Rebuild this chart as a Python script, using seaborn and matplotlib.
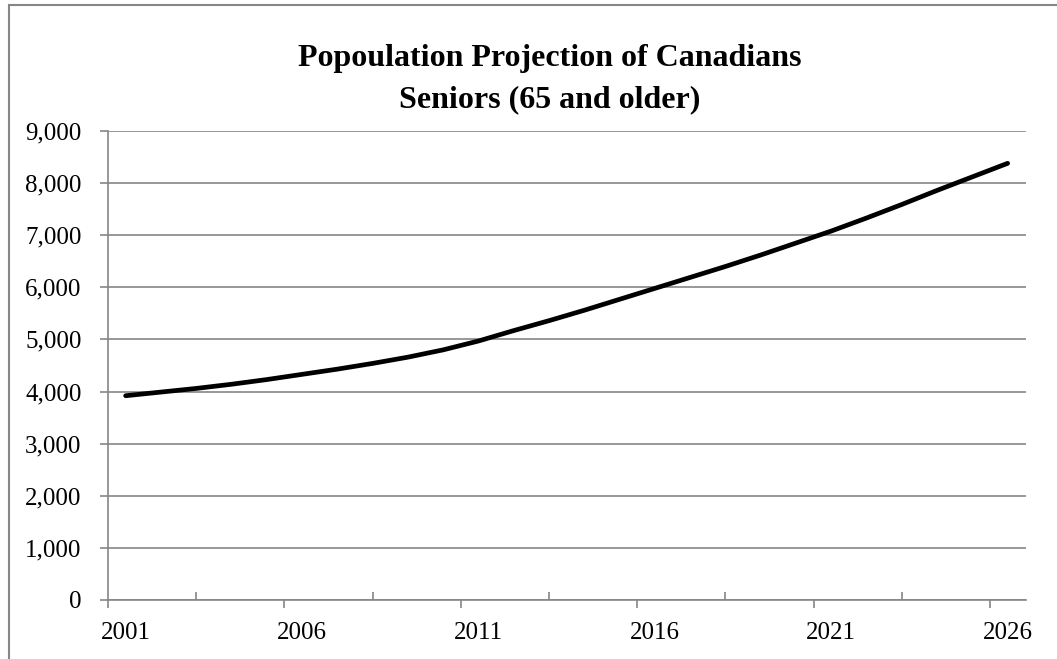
import matplotlib
matplotlib.use("Agg")
import matplotlib.pyplot as plt
from matplotlib.patches import Rectangle
from matplotlib.ticker import FuncFormatter, FixedLocator, NullFormatter
import seaborn as sns
import pandas as pd

years = list(range(2001, 2027))
seniors = [3920, 3990, 4060, 4140, 4230, 4330, 4430, 4540, 4660, 4800,
           4970, 5170, 5360, 5560, 5770, 5980, 6190, 6400, 6620, 6850,
           7080, 7330, 7590, 7860, 8120, 8380]
tick_labels = ["2001", "2006", "2011", "2016", "2021", "2026"]
title = "Popoulation Projection of Canadians\nSeniors (65 and older)"

sns.set_style("white")
plt.rcParams["font.family"] = ["Liberation Serif", "DejaVu Serif"]
plt.rcParams["text.color"] = "black"
plt.rcParams["xtick.labelcolor"] = "black"
plt.rcParams["ytick.labelcolor"] = "black"

df = pd.DataFrame({"year": years, "seniors": seniors})

W, H = 1057, 659
fig = plt.figure(figsize=(W / 100, H / 100), dpi=100)
ax = fig.add_axes([108 / W, 1 - 600 / H, (1026 - 108) / W, (600 - 131) / H])

grid_c = "#868686"
sns.lineplot(data=df, x="year", y="seniors", ax=ax, color="black", linewidth=3.4,
             solid_capstyle="round")

xlim = (years[0] - 0.5, years[-1] + 0.52)
ax.set_ylim(0, 9000)
ax.set_xlim(*xlim)
ax.set_yticks(range(0, 9001, 1000))
ax.yaxis.set_major_formatter(FuncFormatter(lambda v, p: f"{int(v):,}"))
ax.grid(axis="y", color=grid_c, linewidth=1.2)
ax.grid(axis="x", visible=False)
ax.set_axisbelow(True)

# labels at category centres, downward tick marks at category boundaries
label_pos = [int(t) for t in tick_labels]
ax.xaxis.set_major_locator(FixedLocator(label_pos))
ax.set_xticklabels(tick_labels)
ax.xaxis.set_minor_locator(FixedLocator([p - 0.5 for p in label_pos]))
ax.xaxis.set_minor_formatter(NullFormatter())

for s in ["top", "right"]:
    ax.spines[s].set_visible(False)
for s in ["left", "bottom"]:
    ax.spines[s].set_color(grid_c)
    ax.spines[s].set_linewidth(1.2)

ax.tick_params(axis="y", which="major", direction="out", length=6, width=1.2,
               color=grid_c, labelsize=18, pad=13, left=True, labelcolor="black")
ax.tick_params(axis="x", which="major", length=0, labelsize=18, pad=16,
               bottom=True, labelcolor="black")
ax.tick_params(axis="x", which="minor", direction="out", length=6, width=1.2,
               color=grid_c, bottom=True)
ax.set_xlabel("")
ax.set_ylabel("")

# upward tick marks between the labelled categories
ax2 = ax.twiny()
ax2.set_xlim(*xlim)
ax2.xaxis.set_ticks_position("bottom")
ax2.xaxis.set_major_locator(FixedLocator([p + 2 for p in label_pos[:-1]]))
ax2.xaxis.set_major_formatter(NullFormatter())
ax2.tick_params(axis="x", direction="in", length=6, width=1.2, color=grid_c,
                bottom=True, top=False)
for s in ax2.spines.values():
    s.set_visible(False)

fig.text(550 / W, 1 - 79 / H, title, ha="center", va="center", fontsize=23,
         fontweight="bold", linespacing=1.58, color="black")

fig.patches.append(Rectangle((9 / W, -0.1), 1.2, 1 - 4.5 / H + 0.1,
                             transform=fig.transFigure, fill=False,
                             edgecolor=grid_c, linewidth=1.5))

fig.savefig("out.png", dpi=100)
